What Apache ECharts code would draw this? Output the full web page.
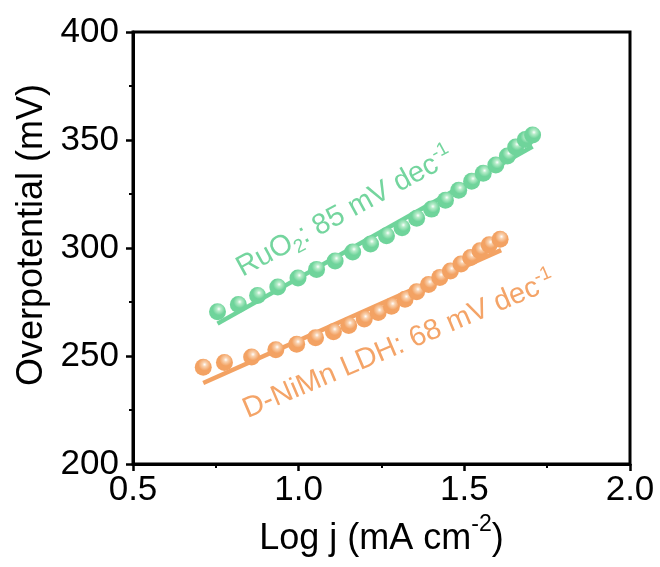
<!DOCTYPE html>
<html>
<head>
<meta charset="utf-8">
<script src="https://cdn.jsdelivr.net/npm/echarts@6/dist/echarts.min.js"></script>
<style>
  html, body { margin: 0; padding: 0; background: #fff; }
  #chart { width: 660px; height: 567px; }
</style>
</head>
<body>
<div id="chart"></div>
<script>
// Tafel data: log j (mA cm^-2) vs overpotential (mV)
const logJ_RuO2 = [0.755, 0.818, 0.876, 0.937, 0.998, 1.054, 1.110, 1.163, 1.217, 1.265, 1.312,
                   1.356, 1.401, 1.443, 1.483, 1.522, 1.557, 1.595, 1.630, 1.655, 1.684, 1.706];
const eta_RuO2  = [270.5, 273.8, 278.0, 281.9, 286.1, 290.1, 294.0, 298.2, 301.8, 305.7, 309.4,
                   313.8, 318.0, 322.1, 326.7, 330.9, 334.6, 338.4, 342.6, 346.8, 350.2, 352.3];

const logJ_LDH = [0.712, 0.776, 0.858, 0.931, 0.994, 1.051, 1.105, 1.151, 1.198, 1.240, 1.280,
                  1.321, 1.356, 1.392, 1.426, 1.458, 1.490, 1.519, 1.547, 1.575, 1.608];
const eta_LDH  = [244.8, 247.0, 249.5, 252.9, 255.4, 258.4, 261.2, 264.1, 267.1, 270.1, 273.0,
                  276.3, 279.7, 283.1, 286.4, 289.3, 292.6, 295.6, 298.7, 301.5, 304.0];

// Linear Tafel fits (end points)
const fitX_RuO2 = [0.755, 1.706];
const fitY_RuO2 = [265.0, 347.0];
const fitX_LDH  = [0.712, 1.611];
const fitY_LDH  = [237.5, 299.0];

// Axis ticks
const xTicks = [0.5, 1.0, 1.5, 2.0];
const yTicks = [200, 250, 300, 350, 400];

// Slope annotations (anchored in data coordinates)
const noteRuO2 = { pre: 'RuO', sub: '2', mid: ': 85 mV dec', sup: '-1', x: 1.140, y: 316.5, angle: 28.5 };
const noteLDH  = { pre: 'D-NiMn LDH: 68 mV dec', sup: '-1', x: 1.303, y: 255.0, angle: 23 };

const GREEN = '#6fd49b';
const GREEN_MID = '#b6ecc9';
const ORANGE = '#f3a263';
const ORANGE_MID = '#f9d2b0';
const FONT = '"Liberation Sans", Arial, sans-serif';

function pairs(xs, ys) { return xs.map((x, i) => [x, ys[i]]); }

function ball(base, mid) {
  return {
    type: 'radial', x: 0.58, y: 0.34, r: 0.62,
    colorStops: [
      { offset: 0, color: '#ffffff' },
      { offset: 0.2, color: mid },
      { offset: 0.58, color: base },
      { offset: 1, color: base }
    ]
  };
}

const chart = echarts.init(document.getElementById('chart'), null, { renderer: 'canvas' });

const axisCommon = {
  axisLine: { show: true, lineStyle: { color: '#000', width: 3 } },
  axisTick: { show: true, inside: false, length: 7, lineStyle: { color: '#000', width: 2.5 } },
  minorTick: { show: true, splitNumber: 2, length: 4, lineStyle: { color: '#000', width: 2 } },
  splitLine: { show: false },
  axisLabel: { color: '#000', fontSize: 35, fontFamily: FONT }
};

chart.setOption({
  animation: false,
  backgroundColor: '#fff',
  grid: { left: 133, right: 30, top: 32, bottom: 103, show: true, borderColor: '#000', borderWidth: 3 },
  xAxis: Object.assign({}, axisCommon, {
    type: 'value', min: xTicks[0], max: xTicks[xTicks.length - 1], interval: 0.5,
    axisLabel: Object.assign({}, axisCommon.axisLabel, {
      margin: 9, formatter: v => v.toFixed(1), showMaxLabel: true, showMinLabel: true
    }),
    name: '{t|Log j (mA cm}{s|-2}{t|)}',
    nameLocation: 'middle', nameGap: 40,
    nameTextStyle: {
      rich: {
        t: { fontSize: 36, fontFamily: FONT, color: '#000', lineHeight: 44, verticalAlign: 'bottom' },
        s: { fontSize: 23, fontFamily: FONT, color: '#000', lineHeight: 23, verticalAlign: 'top' }
      }
    }
  }),
  yAxis: Object.assign({}, axisCommon, {
    type: 'value', min: yTicks[0], max: yTicks[yTicks.length - 1], interval: 50,
    axisLabel: Object.assign({}, axisCommon.axisLabel, { margin: 14 }),
    name: 'Overpotential (mV)',
    nameLocation: 'middle', nameGap: 82,
    nameTextStyle: { fontSize: 36, fontFamily: FONT, color: '#000', padding: [0, 0, 0, 26] }
  }),
  series: [
    {
      type: 'line', data: pairs(fitX_RuO2, fitY_RuO2), showSymbol: false, symbol: 'none',
      lineStyle: { color: GREEN, width: 4.5 }, z: 2, silent: true
    },
    {
      type: 'line', data: pairs(fitX_LDH, fitY_LDH), showSymbol: false, symbol: 'none',
      lineStyle: { color: ORANGE, width: 4.5 }, z: 2, silent: true
    },
    {
      type: 'scatter', data: pairs(logJ_RuO2, eta_RuO2), symbol: 'circle', symbolSize: 17,
      itemStyle: { color: ball(GREEN, GREEN_MID), opacity: 1 }, z: 3
    },
    {
      type: 'scatter', data: pairs(logJ_LDH, eta_LDH), symbol: 'circle', symbolSize: 17,
      itemStyle: { color: ball(ORANGE, ORANGE_MID), opacity: 1 }, z: 3
    }
  ]
});

function noteText(note, color) {
  const p = chart.convertToPixel({ gridIndex: 0 }, [note.x, note.y]);
  const parts = note.sub
    ? '{m|' + note.pre + '}{b|' + note.sub + '}{m|' + note.mid + '}{p|' + note.sup + '}'
    : '{m|' + note.pre + '}{p|' + note.sup + '}';
  return {
    type: 'text', x: p[0], y: p[1], rotation: note.angle * Math.PI / 180, z: 10,
    style: {
      text: parts, align: 'center', verticalAlign: 'middle',
      rich: {
        m: { fontSize: 29, fontFamily: FONT, fill: color, lineHeight: 36, verticalAlign: 'middle' },
        b: { fontSize: 19, fontFamily: FONT, fill: color, lineHeight: 19, verticalAlign: 'bottom' },
        p: { fontSize: 19, fontFamily: FONT, fill: color, lineHeight: 19, verticalAlign: 'top' }
      }
    }
  };
}

chart.setOption({
  graphic: [noteText(noteRuO2, '#74d59e'), noteText(noteLDH, '#f4a468')]
});
</script>
</body>
</html>
